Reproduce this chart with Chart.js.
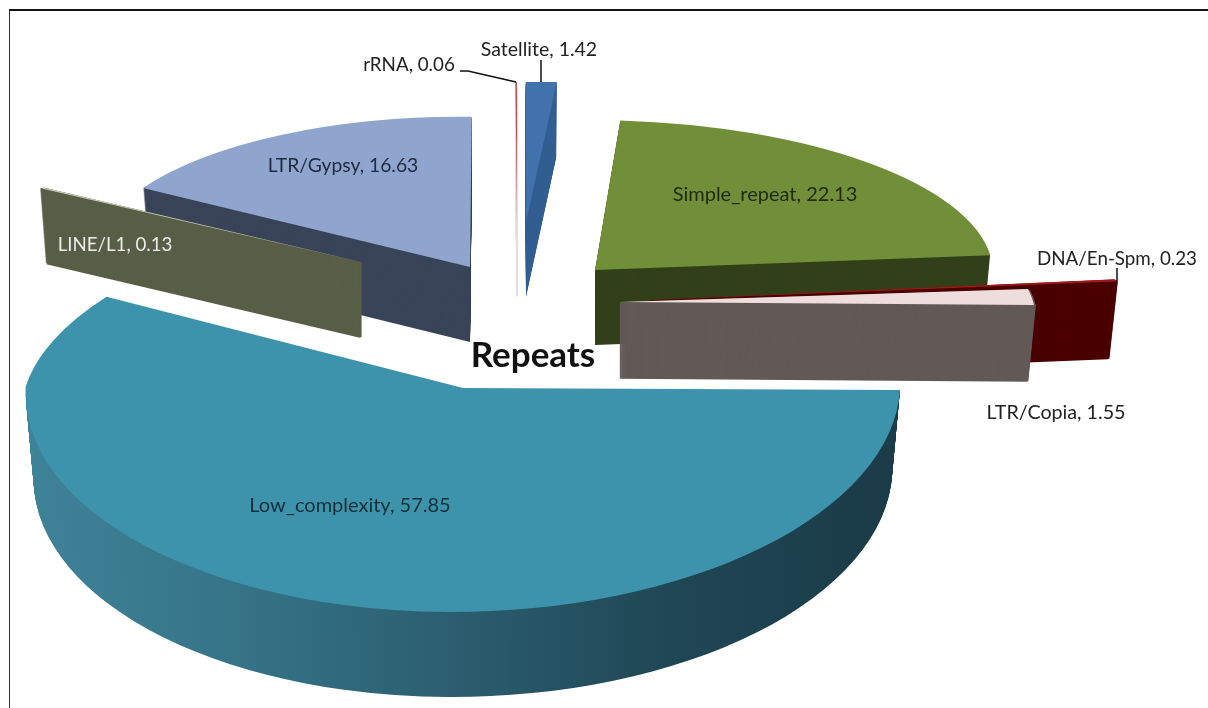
<!DOCTYPE html>
<html>
<head>
<meta charset="utf-8">
<title>Repeats</title>
<script src="https://cdn.jsdelivr.net/npm/chart.js@4"></script>
<style>
  html, body { margin: 0; padding: 0; background: #fff; overflow: hidden; }
  #wrap { position: relative; width: 1208px; height: 708px; }
  #frame { position: absolute; left: 9px; top: 9px; right: 0; bottom: 0; border-top: 2px solid #111; border-left: 1px solid #333; }
  #myChart { position: absolute; left: 0; top: 0; }
</style>
</head>
<body>
<div id="wrap">
  <div id="frame"></div>
  <canvas id="myChart" width="1208" height="708"></canvas>
</div>
<script>
//data
var categories = ['Low_complexity', 'LINE/L1', 'LTR/Gypsy', 'rRNA', 'Satellite', 'Simple_repeat', 'DNA/En-Spm', 'LTR/Copia'];
var values = [57.85, 0.13, 16.63, 0.06, 1.42, 22.13, 0.23, 1.55];
var chartTitle = 'Repeats';

//colours, same order as categories
var topColors = ['#3e93ac', '#c9ccb8', '#8fa5ce', '#b0343c', '#4272ac', '#718f38', '#a01818', '#efdddd'];
var wallColors = [null, '#595e47', '#394459', '#e6dcdc', '#335f92', '#32401a', '#4a0000', '#625957'];
var lowWallStops = ['#3f8399', '#367488', '#2b5e70', '#204755', '#1a3b47'];

//3d view of each slice: apex x, y, then the 2x2 projection of the unit circle
var sliceView = [
  [463, 388, 437, 2, -15, 224],
  [361, 262, 370, 6, -14, 144],
  [470, 267, 379, 8, -11, 150],
  [517, 222, 349, -3, -7, 140],
  [526, 222, 349, -3, -7, 140],
  [595, 270, 398, 2, 2, 150],
  [650, 300, 468, -4, 0, 150],
  [620, 302, 414, 3, 41, 165]
];
//the far half of the big slice is foreshortened: c and d above the apex line
var farBend = { 0: [-60, 189] };
var sliceDepth = [85, 75, 75, 75, 75, 75, 77, 76];
//stroke on the stacked copies, thin slices go stripy without it
var wallHairline = [0, 4.5, 0, 1, 0, 0, 3.5, 3.5];
var depthShrink = 0.018;
var drawOrder = [4, 3, 2, 5, 1, 6, 7, 0];

//label centre x, y, colour, font size
var labelSpots = [
  [350, 506, '#12303a', 20],
  [115, 245, '#ecece4', 18.7],
  [343, 166, '#1f2a40', 19.3],
  [409, 65, '#222', 18.8],
  [539, 50, '#222', 19.5],
  [765, 195, '#1f2a10', 20],
  [1117, 259, '#222', 18.8],
  [1056, 413, '#222', 19.7]
];
var leaders = [
  [[460, 71], [468, 71], [516, 82]],
  [[541, 60], [541, 82]],
  [[1117, 268], [1117, 281]]
];

function drawSlice(ctx, arc, i) {
  var v = sliceView[i];
  var bend = farBend[i];
  var r = arc.outerRadius;
  var saved = arc.options;

  function piece(t, c, d, clipTop, clipH) {
    var k = 1 - depthShrink * t / sliceDepth[i];
    ctx.save();
    if (clipH) {
      ctx.beginPath();
      ctx.rect(0, clipTop, 1208, clipH);
      ctx.clip();
    }
    ctx.translate(v[0], v[1] + t);
    ctx.transform(k * v[2] / r, v[3] / r, k * c / r, d / r, 0, 0);
    ctx.translate(-arc.x, -arc.y);
    arc.draw(ctx);
    ctx.restore();
  }

  function place(t) {
    if (bend) {
      var y = v[1] + t;
      piece(t, bend[0], bend[1], 0, y);
      piece(t, v[4], v[5], y, 708 - y);
    } else {
      piece(t, v[4], v[5]);
    }
  }

  for (var t = sliceDepth[i]; t > 0; t--) {
    var wall = wallColors[i];
    if (!wall) {
      var k = 1 - depthShrink * t / sliceDepth[i];
      wall = ctx.createLinearGradient(arc.x - r / k, 0, arc.x + r / k, 0);
      lowWallStops.forEach(function (c, n) {
        wall.addColorStop(n / (lowWallStops.length - 1), c);
      });
    }
    arc.options = Object.assign({}, saved, { backgroundColor: wall, borderColor: wall, borderWidth: wallHairline[i] });
    place(t);
  }
  arc.options = Object.assign({}, saved, { backgroundColor: topColors[i], borderWidth: 0 });
  place(0);
  arc.options = saved;
}

var pie3d = {
  id: 'pie3d',
  beforeDatasetsDraw: function (chart) {
    var arcs = chart.getDatasetMeta(0).data;
    drawOrder.forEach(function (i) {
      drawSlice(chart.ctx, arcs[i], i);
    });
    return false;
  },
  afterDraw: function (chart) {
    var ctx = chart.ctx;
    ctx.save();
    ctx.strokeStyle = '#111';
    ctx.lineWidth = 1.5;
    leaders.forEach(function (pts) {
      ctx.beginPath();
      pts.forEach(function (p, n) {
        if (n === 0) ctx.moveTo(p[0], p[1]);
        else ctx.lineTo(p[0], p[1]);
      });
      ctx.stroke();
    });

    ctx.textAlign = 'center';
    ctx.textBaseline = 'middle';
    categories.forEach(function (name, i) {
      ctx.font = labelSpots[i][3] + 'px Lato';
      ctx.fillStyle = labelSpots[i][2];
      ctx.fillText(name + ', ' + values[i].toFixed(2), labelSpots[i][0], labelSpots[i][1]);
    });
    ctx.fillStyle = '#111';
    ctx.font = 'bold 35px Lato';
    ctx.fillText(chartTitle, 533, 356);
    ctx.restore();
  }
};

var ctx = document.getElementById('myChart');
var myChart = new Chart(ctx, {
  type: 'pie',
  data: {
    labels: categories,
    datasets: [{
      data: values,
      backgroundColor: topColors,
      borderWidth: 0
    }]
  },
  options: {
    responsive: false,
    animation: false,
    rotation: 90,
    plugins: {
      legend: { display: false },
      tooltip: { enabled: false }
    }
  },
  plugins: [pie3d]
});
</script>
</body>
</html>
